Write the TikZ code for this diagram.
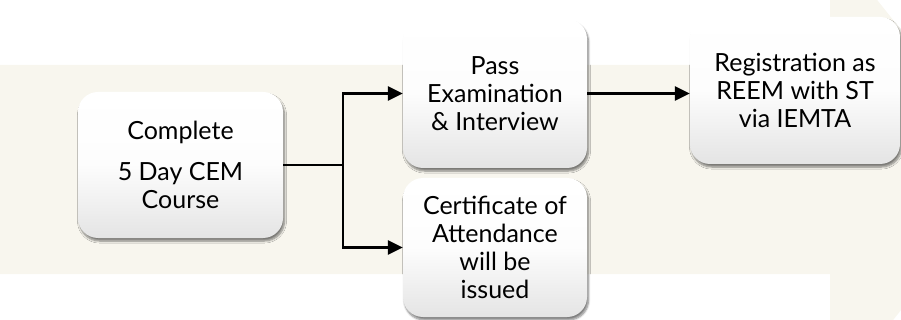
\documentclass[tikz,border=0pt]{standalone}
\usepackage{fontspec}
\setmainfont{Lato}
\usetikzlibrary{arrows.meta,shadows,shadows.blur,calc}
\definecolor{cream}{RGB}{248,246,238}
\definecolor{boxgrey}{RGB}{228,228,228}
\tikzstyle{stage}=[rounded corners=20pt,top color=white,bottom color=boxgrey,middle color=white!92!boxgrey,align=center,inner sep=0pt,
  font=\fontsize{25}{28}\selectfont,
  blur shadow={shadow xshift=1.5pt,shadow yshift=-3pt,shadow blur steps=6,shadow opacity=50}]
\tikzstyle{link} = [draw,line width=2.5pt]
\tikzstyle{flow} = [draw,line width=2.5pt,-{Triangle[length=15pt,width=14pt]}]

\begin{document}
\begin{tikzpicture}[x=1pt,y=-1pt]
    \useasboundingbox (0,0) rectangle (901,320);
    % Draw the big arrow behind everything
    \begin{scope}
        \clip (0,0) rectangle (901,320);
        \fill[cream] (0,65) -- (830,65) -- (830,-59) -- (1013,170) -- (830,399) -- (830,274) -- (0,274) -- cycle;
    \end{scope}

    % Then the steps
    \node[stage,minimum width=205pt,minimum height=146pt] (course) at (180.5,165) {Complete\\[13pt]5 Day CEM\\Course};
    \node[stage,minimum width=184pt,minimum height=149pt] (pass) at (495,93.5) {Pass\\Examination\\\& Interview};
    \node[stage,minimum width=184pt,minimum height=139pt] (cert) at (495,247.5) {Certificate of\\Attendance\\will be\\issued};
    \node[stage,minimum width=210pt,minimum height=147pt] (reg) at (795,90.5) {Registration as\\REEM with ST\\via IEMTA};

    % Connect the steps
    \coordinate (split) at (343,165);
    \path[link] (course.east) -- (split);
    \foreach \dest in {pass,cert}
        \path[flow] (split) |- (\dest.west);
    \path[flow] (pass.east) -- (pass.east -| reg.west);
\end{tikzpicture}
\end{document}
